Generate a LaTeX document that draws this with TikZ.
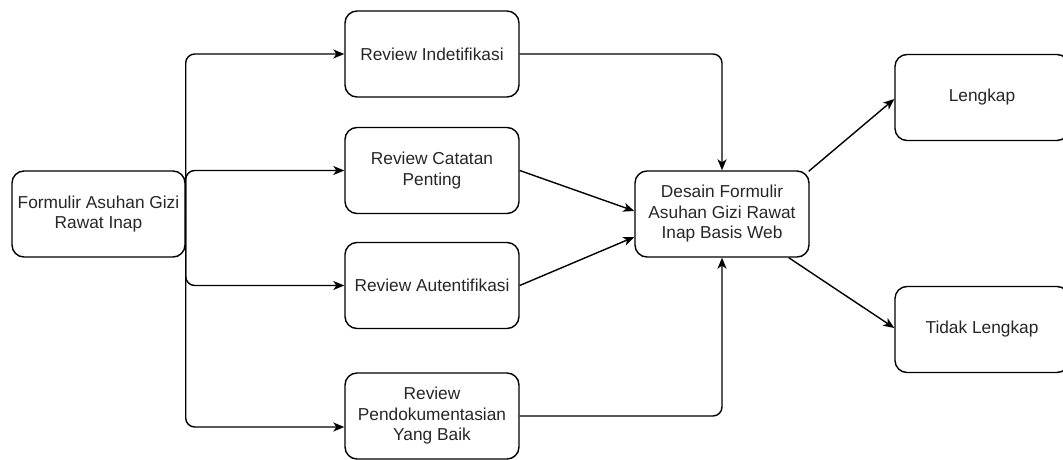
\documentclass[tikz,border=0pt]{standalone}
\usepackage{fontspec}
\setmainfont{Liberation Sans}
\usetikzlibrary{arrows.meta,calc}
\begin{document}
\begin{tikzpicture}[x=1pt,y=-1pt,
  box/.style={draw=black,line width=1.4pt,rounded corners=12pt,align=center,
    minimum width=174pt,minimum height=86pt,inner sep=2pt,
    font=\fontsize{17.3}{20.5}\selectfont,text=black!85},
  conn/.style={draw=black,line width=1.4pt,rounded corners=9pt,
    -{Stealth[length=11pt,width=9pt,inset=3pt]}}]
\useasboundingbox (0,0) rectangle (1063,460);
\node[box,minimum width=173pt] (f) at (98.5,214) {Formulir Asuhan Gizi\\Rawat Inap};
\node[box] (r1) at (432,54) {Review Indetifikasi};
\node[box] (r2) at (432,170.5) {Review Catatan\\Penting};
\node[box] (r3) at (432,285.5) {Review Autentifikasi};
\node[box] (r4) at (432,416) {Review\\Pendokumentasian\\Yang Baik};
\node[box] (d) at (722,214) {Desain Formulir\\Asuhan Gizi Rawat\\Inap Basis Web};
\node[box] (l) at (982,97.5) {Lengkap};
\node[box] (t) at (982,329.5) {Tidak Lengkap};
\draw[conn] (f.east) |- (r1.west);
\draw[conn] (f.east) |- (r2.west);
\draw[conn] (f.east) |- (r3.west);
\draw[conn] (f.east) |- ([yshift=-11pt]r4.west);
\draw[conn] (r1.east) -| (d.north);
\draw[conn] (r4.east) -| (d.south);
\draw[conn] (r2.east) -- ([yshift=3pt]d.west);
\draw[conn] (r3.east) -- ([yshift=-23pt]d.west);
\draw[conn] ([xshift=-1pt,yshift=-1pt]d.north east) -- ([yshift=-1.5pt]l.west);
\draw[conn] ([xshift=-21pt]d.south east) -- ([yshift=1.5pt]t.west);
\end{tikzpicture}
\end{document}
